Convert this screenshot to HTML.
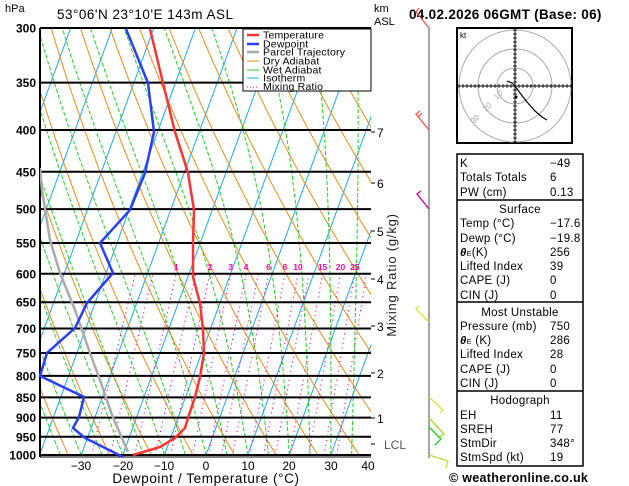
<!DOCTYPE html>
<html><head><meta charset="utf-8"><style>
html,body{margin:0;padding:0;background:#fff;width:629px;height:486px;overflow:hidden}
svg{display:block}
text{font-family:"Liberation Sans","DejaVu Sans",sans-serif}
</style></head><body>
<svg id="s" width="629" height="486" viewBox="0 0 629 486" xmlns="http://www.w3.org/2000/svg">
<defs><clipPath id="c"><rect x="40" y="28" width="331" height="427"/></clipPath></defs>
<g id="bg" clip-path="url(#c)"></g>
<g id="fg"></g>
<text x="5" y="12" font-size="11">hPa</text>
<text x="57" y="19" font-size="13.5" letter-spacing="0.5">53°06'N  23°10'E  143m  ASL</text>
<text x="374" y="12" font-size="11">km</text>
<text x="374" y="25" font-size="11">ASL</text>
<text x="409" y="19" font-size="13.5" font-weight="bold" letter-spacing="0.3">04.02.2026  06GMT  (Base: 06)</text>
<rect x="243" y="29" width="128" height="62" fill="#fff" stroke="#000" stroke-width="1"/>
<g font-size="10.5" letter-spacing="0.2">
<line x1="247" y1="35" x2="259" y2="35" stroke="#f33" stroke-width="2.5"/><text x="263" y="38.5">Temperature</text>
<line x1="247" y1="44" x2="259" y2="44" stroke="#2a3ef5" stroke-width="2.5"/><text x="263" y="47.5">Dewpoint</text>
<line x1="247" y1="52" x2="259" y2="52" stroke="#aaa" stroke-width="2.5"/><text x="263" y="55.5">Parcel Trajectory</text>
<line x1="247" y1="61" x2="259" y2="61" stroke="#f08a1e" stroke-width="1"/><text x="263" y="64.5">Dry Adiabat</text>
<line x1="247" y1="70" x2="259" y2="70" stroke="#22d022" stroke-width="1"/><text x="263" y="73.5">Wet Adiabat</text>
<line x1="247" y1="78" x2="259" y2="78" stroke="#1ea8f5" stroke-width="1"/><text x="263" y="81.5">Isotherm</text>
<line x1="247" y1="87" x2="259" y2="87" stroke="#f0a" stroke-width="1" stroke-dasharray="1,2"/><text x="263" y="90">Mixing Ratio</text>
</g>
<g font-size="12" text-anchor="middle">
<text x="81" y="470">−30</text><text x="123" y="470">−20</text><text x="164" y="470">−10</text>
<text x="206" y="470">0</text><text x="248" y="470">10</text><text x="289" y="470">20</text>
<text x="331" y="470">30</text><text x="368" y="470">40</text>
<text x="206" y="483" font-size="13.5" letter-spacing="0.6">Dewpoint / Temperature (°C)</text>
</g>
<g font-size="12">
<text x="377" y="137">7</text><text x="377" y="188">6</text><text x="377" y="236">5</text>
<text x="377" y="284">4</text><text x="377" y="331">3</text><text x="377" y="378">2</text>
<text x="377" y="423">1</text><text x="384" y="449" fill="#555">LCL</text>
</g>
<text transform="translate(396,275) rotate(-90)" font-size="13" letter-spacing="0.8" text-anchor="middle" fill="#222">Mixing Ratio (g/kg)</text>
<line x1="429" y1="28" x2="429" y2="458" stroke="#888" stroke-width="1.5"/>
<g stroke-width="1.3" fill="none">
<polyline points="429,28 416,12 419,8" stroke="#f55"/>
<polyline points="429,130 416,114 420,111" stroke="#f55"/><polyline points="418,117 422,113" stroke="#f55"/>
<polyline points="429,209 417,194 421,191" stroke="#c0a"/>
<polyline points="429,322 416,309 419,306" stroke="#dd4"/>
<polyline points="429,397 443,410 440,413" stroke="#dd4"/>
<polyline points="429,418 444,434 438,438" stroke="#9d3"/>
<polyline points="429,427 441,439 435,445" stroke="#2c2"/>
<polyline points="429,455 448,461 446,468" stroke="#bd3"/>
</g>
<rect x="457" y="28" width="115" height="115" fill="#fff" stroke="#000" stroke-width="2"/>
<g fill="none" stroke="#aaa" stroke-width="1">
<circle cx="515" cy="86" r="18"/><circle cx="515" cy="86" r="37"/><circle cx="515" cy="86" r="56"/>
</g>
<g id="hod"></g>
<text x="460" y="38" font-size="8">kt</text>
<polyline points="507,81 512,83 515,86 520,93 527,102 535,111 542,117 547,120" fill="none" stroke="#000" stroke-width="1.2"/>
<circle cx="516" cy="97" r="1.5"/>
<g font-size="8" fill="#aaa"><text x="497" y="100" transform="rotate(-45 497 100)">10</text><text x="486" y="112" transform="rotate(-45 486 112)">20</text><text x="474" y="124" transform="rotate(-45 474 124)">30</text></g>
<g stroke="#000" stroke-width="1.5" fill="none">
<rect x="457" y="154" width="126" height="312"/>
<line x1="457" y1="200" x2="583" y2="200"/><line x1="457" y1="302" x2="583" y2="302"/><line x1="457" y1="391" x2="583" y2="391"/>
</g>
<g font-size="11.5" letter-spacing="0.3">
<text x="460" y="167">K</text><text x="550" y="167">−49</text>
<text x="460" y="181">Totals Totals</text><text x="550" y="181">6</text>
<text x="460" y="196">PW (cm)</text><text x="550" y="196">0.13</text>
<text x="520" y="213" text-anchor="middle">Surface</text>
<text x="460" y="227">Temp (°C)</text><text x="550" y="227">−17.6</text>
<text x="460" y="242">Dewp (°C)</text><text x="550" y="242">−19.8</text>
<text x="460" y="256"><tspan font-weight="bold" font-style="italic">θ</tspan><tspan font-size="7">E</tspan>(K)</text><text x="550" y="256">256</text>
<text x="460" y="270">Lifted Index</text><text x="550" y="270">39</text>
<text x="460" y="284">CAPE (J)</text><text x="550" y="284">0</text>
<text x="460" y="299">CIN (J)</text><text x="550" y="299">0</text>
<text x="520" y="316" text-anchor="middle">Most Unstable</text>
<text x="460" y="330">Pressure (mb)</text><text x="550" y="330">750</text>
<text x="460" y="344"><tspan font-weight="bold" font-style="italic">θ</tspan><tspan font-size="7">E</tspan> (K)</text><text x="550" y="344">286</text>
<text x="460" y="358">Lifted Index</text><text x="550" y="358">28</text>
<text x="460" y="373">CAPE (J)</text><text x="550" y="373">0</text>
<text x="460" y="387">CIN (J)</text><text x="550" y="387">0</text>
<text x="520" y="404" text-anchor="middle">Hodograph</text>
<text x="460" y="419">EH</text><text x="550" y="419">11</text>
<text x="460" y="433">SREH</text><text x="550" y="433">77</text>
<text x="460" y="447">StmDir</text><text x="550" y="447">348°</text>
<text x="460" y="461">StmSpd (kt)</text><text x="550" y="461">19</text>
</g>
<text x="449" y="482" font-size="12.5" font-weight="bold" letter-spacing="0.3">© weatheronline.co.uk</text>
</svg>
<script>
(function(){
var NS="http://www.w3.org/2000/svg",bg=document.getElementById("bg"),fg=document.getElementById("fg"),hod=document.getElementById("hod");
function Y(p){return 455-354.7*Math.log(1000/p);}
function X(T,p){return 206+4.16*T+0.365*(455-Y(p));}
function el(par,n,a){var e=document.createElementNS(NS,n);for(var k in a)e.setAttribute(k,a[k]);par.appendChild(e);return e;}
function poly(par,pts,a){a.points=pts.map(function(q){return q[0].toFixed(1)+","+q[1].toFixed(1)}).join(" ");a.fill="none";return el(par,"polyline",a);}
el(hod,"line",{x1:458,y1:86,x2:571,y2:86,stroke:"#000","stroke-width":1});
el(hod,"line",{x1:515,y1:29,x2:515,y2:142,stroke:"#000","stroke-width":1});
for(var i=-14;i<=14;i++){if(!i)continue;var v=515+i*4;el(hod,"line",{x1:v,y1:84,x2:v,y2:88,stroke:"#000","stroke-width":0.8});var w=86+i*4;el(hod,"line",{x1:513,y1:w,x2:517,y2:w,stroke:"#000","stroke-width":0.8});}
for(var T=-120;T<=40;T+=10){poly(bg,[[X(T,1000),455],[X(T,300),28]],{stroke:"#1ea8f5","stroke-width":1});}
for(var th=200;th<=480;th+=10){var pts=[];for(var p=1000;p>=300;p-=10){var Tk=th*Math.pow(p/1000,0.286);pts.push([X(Tk-273.15,p),Y(p)]);}poly(bg,pts,{stroke:"#f08a1e","stroke-width":1});}
function es(T){return 6.112*Math.exp(17.67*T/(T+243.5));}
for(var T0=-45;T0<=40;T0+=5){var t=T0+273.15,pts=[[X(T0,1000),455]];for(var p=1000;p>300;p-=5){var rs=0.622*es(t-273.15)/(p-es(t-273.15));var d=(287*t+2.5e6*rs)/(p*(1005+2.5e6*2.5e6*rs*0.622/(287*t*t)));t-=d*5;pts.push([X(t-273.15,p-5),Y(p-5)]);}poly(bg,pts,{stroke:"#22d022","stroke-width":1,"stroke-dasharray":"4,2"});}
var ws=[0.4,0.6,1,1.5,2,3,4,5,6,8,10,12,15,20,25,30];
function td(w,p){var e=w*p/(622+w),l=Math.log(e/6.112);return 243.5*l/(17.67-l);}
ws.forEach(function(w){poly(bg,[[X(td(w,1000),1000),455],[X(td(w,600),600),Y(600)]],{stroke:"#f0a","stroke-width":1,"stroke-dasharray":"1.2,3.5"});});
[1,2,3,4,6,8,10,15,20,25].forEach(function(w){var t=el(fg,"text",{x:X(td(w,600),600),y:Y(600)-4,"font-size":"8.5","font-weight":"bold","fill":"#f0a","text-anchor":"middle"});t.textContent=w;});
[300,350,400,450,500,550,600,650,700,750,800,850,900,950,1000].forEach(function(p){var y=Y(p);el(fg,"line",{x1:40,y1:y,x2:371,y2:y,stroke:"#000","stroke-width":2});var t=el(fg,"text",{x:36,y:y+4.5,"font-size":"12","text-anchor":"end","font-weight":"bold"});t.textContent=p;});
el(fg,"line",{x1:40,y1:28,x2:40,y2:457,stroke:"#000","stroke-width":2});
el(fg,"line",{x1:40,y1:457,x2:371,y2:457,stroke:"#000","stroke-width":1});
[132,183,231,279,326,373,418,444].forEach(function(y){el(fg,"line",{x1:371,y1:y,x2:375,y2:y,stroke:"#000","stroke-width":1});});
function pl(s){return s.split(" ").map(function(a){return a.split(",").map(Number)});}
poly(fg,pl("128,452 112,415 100,380 90,353 75,310 60,273 50,240 42,190 40,168"),{stroke:"#aaa","stroke-width":2.5,"clip-path":"url(#c)"});
poly(fg,pl("123,457 85,438 73,428 79,417 84,397 40,376 47,353 75,328 87,303 113,273 100,243 130,210 145,173 154,132 148,83 126,29"),{stroke:"#2a3ef5","stroke-width":2.5});
poly(fg,pl("133,455 160,447 175,438 185,428 188,418 195,397 200,377 204,353 203,330 200,303 193,277 193,243 194,210 188,173 185,163 175,132 163,83 150,29"),{stroke:"#f33","stroke-width":2.5});
})();
</script>
</body></html>
